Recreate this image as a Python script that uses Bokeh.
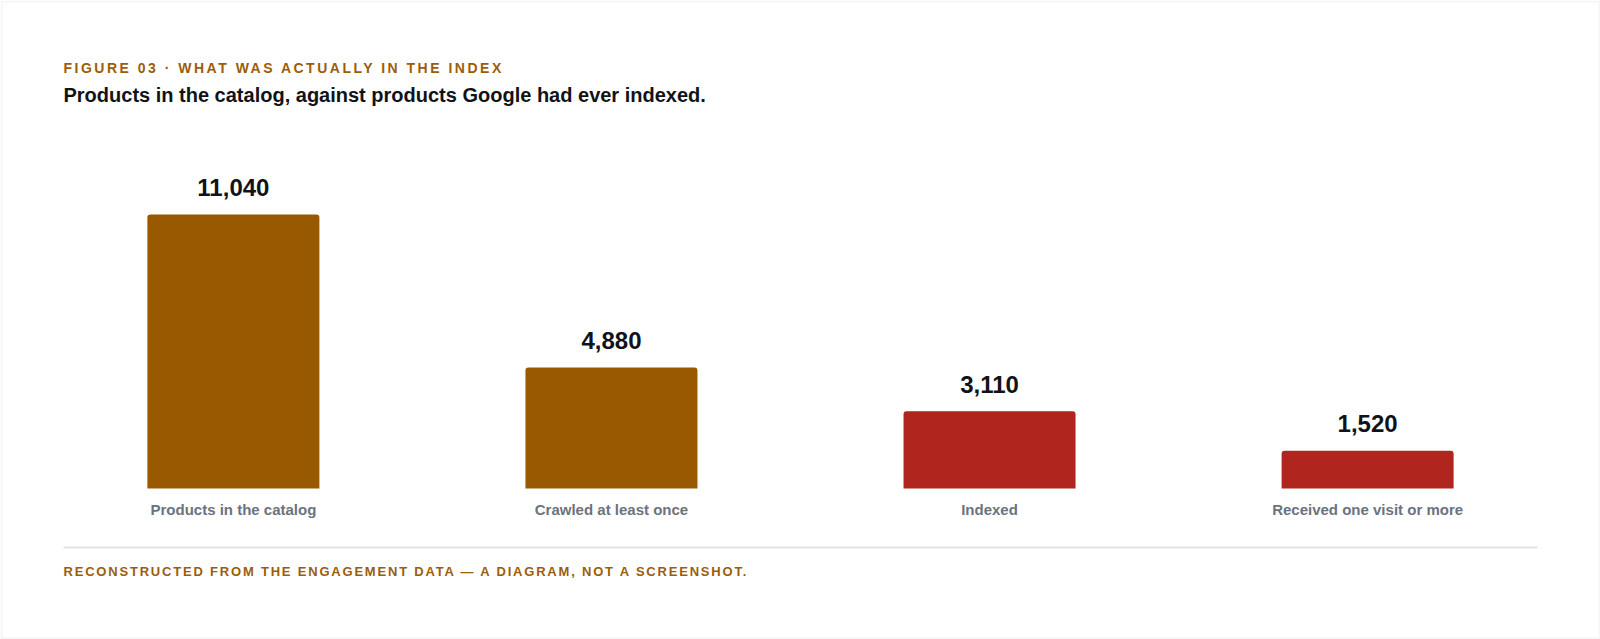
from bokeh.core.properties import value
from bokeh.embed import file_html
from bokeh.layouts import column
from bokeh.models import BoxAnnotation, ColumnDataSource, FactorRange, Label, Range1d
from bokeh.plotting import figure
from bokeh.resources import INLINE

categories = ["Products in the catalog", "Crawled at least once", "Indexed", "Received one visit or more"]
counts = [11040, 4880, 3110, 1520]
bar_colors = ["#995900", "#995900", "#b0261e", "#b0261e"]

kicker = "FIGURE 03 \u00b7 WHAT WAS ACTUALLY IN THE INDEX"
headline = "Products in the catalog, against products Google had ever indexed."
footnote = "RECONSTRUCTED FROM THE ENGAGEMENT DATA \u2014 A DIAGRAM, NOT A SCREENSHOT."

W = 1600
TOP_H, MAIN_H, BOT_H = 80, 480, 79
FONT = "Liberation Sans"
BROWN_TEXT = "#9c5d0a"
INK = "#111318"
CARD = "#e2dfd6"
LEFT = 63

# pixel layout of the bar area (inside the main figure)
base_px = 408        # bar baseline, from top of main figure
tallest_px = 274     # height of the tallest bar
unit = max(counts) / tallest_px


def card_edges(f, height, top=False, bottom=False):
    # the card border, cut into strips; edges that fall off the canvas are not seen
    f.add_layout(BoxAnnotation(left=1, right=W - 1,
                               bottom=1 if bottom else -10,
                               top=height - 1 if top else height + 10,
                               left_units="screen", right_units="screen",
                               bottom_units="screen", top_units="screen",
                               fill_color=None, line_color=CARD, line_width=2))


def blank(height, spacing=None):
    f = figure(width=W, height=height, x_axis_location=None, y_axis_location=None,
               tools="", toolbar_location=None, output_backend="svg", min_border=0,
               outline_line_color=None, background_fill_color="white",
               border_fill_color="white")
    f.xgrid.visible = False
    f.ygrid.visible = False
    if spacing:
        f.styles = {"letter-spacing": spacing}
    return f


def add_text(f, txt, x, y_from_bottom, size, color):
    f.add_layout(Label(x=x, y=y_from_bottom, x_units="screen", y_units="screen", text=txt,
                       text_baseline="alphabetic", text_font=FONT, text_font_style="bold",
                       text_font_size=size, text_color=color))


# kicker strip
top = blank(TOP_H, spacing="2.5px")
add_text(top, kicker, LEFT, 13, "14px", BROWN_TEXT)
card_edges(top, TOP_H, top=True)

# main chart
src = ColumnDataSource(dict(
    cat=categories,
    count=counts,
    color=bar_colors,
    label=[f"{c:,}" for c in counts],
))

fig = figure(
    width=W, height=MAIN_H,
    x_range=FactorRange(factors=categories, range_padding=0.116, range_padding_units="absolute"),
    y_range=Range1d(-(MAIN_H - base_px) * unit, base_px * unit),
    x_axis_location=None, y_axis_location=None,
    tools="", toolbar_location=None,
    output_backend="svg",
    min_border=0,
    outline_line_color=None,
    background_fill_color="white",
    border_fill_color="white",
)
fig.xgrid.visible = False
fig.ygrid.visible = False

fig.vbar(x="cat", top="count", width=0.455, source=src, fill_color="color",
         line_color=None, border_radius=(3, 3, 0, 0))

# values above bars
fig.text(x="cat", y="count", text="label", source=src, y_offset=-27,
         text_align="center", text_baseline="alphabetic",
         text_font=value(FONT), text_font_style="bold", text_font_size="24px",
         text_color=INK)

# category names under bars
fig.text(x="cat", y=0, text="cat", source=src, y_offset=21,
         text_align="center", text_baseline="alphabetic",
         text_font=value(FONT), text_font_style="bold", text_font_size="15px",
         text_color="#6b7280")

add_text(fig, headline, LEFT, MAIN_H - 14, "20px", INK)

# rule above the footnote
fig.add_layout(BoxAnnotation(left=LEFT, right=W - LEFT, bottom=12, top=14,
                             left_units="screen", right_units="screen",
                             bottom_units="screen", top_units="screen",
                             fill_color="#e6e3dc", fill_alpha=1, line_color=None))
card_edges(fig, MAIN_H)

# footnote strip
bottom = blank(BOT_H, spacing="1.8px")
add_text(bottom, footnote, LEFT, BOT_H - 11, "13px", BROWN_TEXT)
card_edges(bottom, BOT_H, bottom=True)

p = column(top, fig, bottom, spacing=0)

open("out.html", "w").write(file_html(p, INLINE))
